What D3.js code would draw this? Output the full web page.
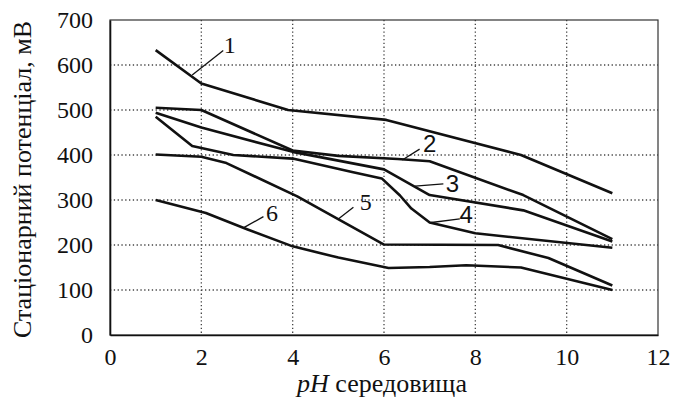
<!DOCTYPE html>
<html>
<head>
<meta charset="utf-8">
<script src="https://cdn.jsdelivr.net/npm/d3@7"></script>
<style>
  body { margin: 0; background: #fff; }
</style>
</head>
<body>
<div id="chart-area"></div>
<script>
// curves: [pH, potential mV]
const curve1 = [[1, 633], [2, 559], [3.9, 500], [6.05, 478], [9, 400], [11, 315]];
const curve2 = [[1, 505], [2, 500], [4, 410], [5, 398], [6.3, 391], [7, 386], [9.05, 311], [11, 213]];
const curve3 = [[1, 494], [2, 461], [4, 407], [6, 368], [7, 311], [9.05, 277], [11, 208]];
const curve4 = [[1, 485], [1.8, 420], [2.7, 400], [4, 392], [5.3, 362], [5.95, 348], [6.35, 310], [6.6, 281], [7, 250], [8, 226], [11, 194]];
const curve5 = [[1, 401], [2, 396], [2.55, 382], [4.1, 308], [6, 201], [8.5, 200], [9.6, 171], [11, 110]];
const curve6 = [[1, 300], [2.1, 271], [3, 235], [4, 197], [5, 172], [6.1, 149], [7, 151], [7.8, 155], [9, 150], [11, 100]];
const curves = [curve1, curve2, curve3, curve4, curve5, curve6];

const xTicks = [0, 2, 4, 6, 8, 10, 12];
const yTicks = [0, 100, 200, 300, 400, 500, 600, 700];

// curve labels: number, text position, leader line from/to (data units)
const labelNames = ["1", "2", "3", "4", "5", "6"];
const labelPos = [[2.62, 644], [7.0, 425], [7.5, 337], [7.8, 268], [5.6, 295], [3.55, 272]];
const leaderFrom = [[1.8, 578], [6.4, 389], [6.68, 331], [7.04, 250], [5.0, 258], [2.92, 238]];
const leaderTo = [[2.48, 632], [6.78, 413], [7.3, 336], [7.66, 258], [5.33, 284], [3.36, 263]];
const labelFonts = ["Liberation Serif", "Liberation Sans", "Liberation Sans", "Liberation Sans", "Liberation Serif", "Liberation Serif"];

const margin = { top: 20, right: 20, bottom: 68, left: 110 };
const width = 678 - margin.left - margin.right;
const height = 403 - margin.top - margin.bottom;

const svg = d3.select("#chart-area")
  .append("svg")
  .attr("width", 678)
  .attr("height", 403);

const g = svg.append("g")
  .attr("transform", `translate(${margin.left}, ${margin.top})`);

const x = d3.scaleLinear().domain([0, 12]).range([0, width]);
const y = d3.scaleLinear().domain([0, 700]).range([height, 0]);

// dotted grid
g.append("g")
  .selectAll("line")
  .data(xTicks.slice(1, -1))
  .join("line")
  .attr("x1", d => x(d))
  .attr("x2", d => x(d))
  .attr("y1", 0)
  .attr("y2", height)
  .attr("stroke", "#444")
  .attr("stroke-width", 1.3)
  .attr("stroke-dasharray", "1.3,2.5");

g.append("g")
  .selectAll("line")
  .data(yTicks.slice(1, -1))
  .join("line")
  .attr("x1", 0)
  .attr("x2", width)
  .attr("y1", d => y(d))
  .attr("y2", d => y(d))
  .attr("stroke", "#444")
  .attr("stroke-width", 1.3)
  .attr("stroke-dasharray", "1.3,2.5");

// frame
g.append("rect")
  .attr("width", width)
  .attr("height", height)
  .attr("fill", "none")
  .attr("stroke", "#333")
  .attr("stroke-width", 1.2);

// axes
const xAxis = g.append("g")
  .attr("transform", `translate(0, ${height})`)
  .call(d3.axisBottom(x).tickValues(xTicks).tickSize(0).tickPadding(13));

const yAxis = g.append("g")
  .call(d3.axisLeft(y).tickValues(yTicks).tickSize(0).tickPadding(17));

[xAxis, yAxis].forEach(a => {
  a.attr("font-family", "'Liberation Serif', 'Times New Roman', serif").attr("font-size", 24);
  a.select(".domain").attr("stroke", "#111").attr("stroke-width", 1.6);
  a.selectAll("text").attr("fill", "#111");
});

// curves
const line = d3.line()
  .x(d => x(d[0]))
  .y(d => y(d[1]));

g.selectAll(".curve")
  .data(curves)
  .join("path")
  .attr("class", "curve")
  .attr("d", line)
  .attr("fill", "none")
  .attr("stroke", "#111")
  .attr("stroke-width", 2.6)
  .attr("stroke-linejoin", "round");

// leaders and numbers
g.selectAll(".leader")
  .data(labelNames)
  .join("line")
  .attr("class", "leader")
  .attr("x1", (d, i) => x(leaderFrom[i][0]))
  .attr("y1", (d, i) => y(leaderFrom[i][1]))
  .attr("x2", (d, i) => x(leaderTo[i][0]))
  .attr("y2", (d, i) => y(leaderTo[i][1]))
  .attr("stroke", "#111")
  .attr("stroke-width", 1.3);

g.selectAll(".num")
  .data(labelNames)
  .join("text")
  .attr("class", "num")
  .attr("x", (d, i) => x(labelPos[i][0]))
  .attr("y", (d, i) => y(labelPos[i][1]))
  .attr("text-anchor", "middle")
  .attr("dominant-baseline", "central")
  .attr("font-family", (d, i) => labelFonts[i])
  .attr("font-size", 24)
  .attr("fill", "#111")
  .text(d => d);

// axis titles
svg.append("text")
  .attr("transform", `translate(31, ${margin.top + height / 2 + 2}) rotate(-90)`)
  .attr("text-anchor", "middle")
  .attr("font-family", "'Liberation Serif', 'Times New Roman', serif")
  .attr("font-size", 26)
  .attr("fill", "#111")
  .text("Стаціонарний потенціал, мВ");

const xTitle = svg.append("text")
  .attr("x", margin.left + width / 2 - 2)
  .attr("y", 392)
  .attr("text-anchor", "middle")
  .attr("font-family", "'Liberation Serif', 'Times New Roman', serif")
  .attr("font-size", 26)
  .attr("fill", "#111");
xTitle.append("tspan").attr("font-style", "italic").text("pH");
xTitle.append("tspan").text(" середовища");
</script>
</body>
</html>
